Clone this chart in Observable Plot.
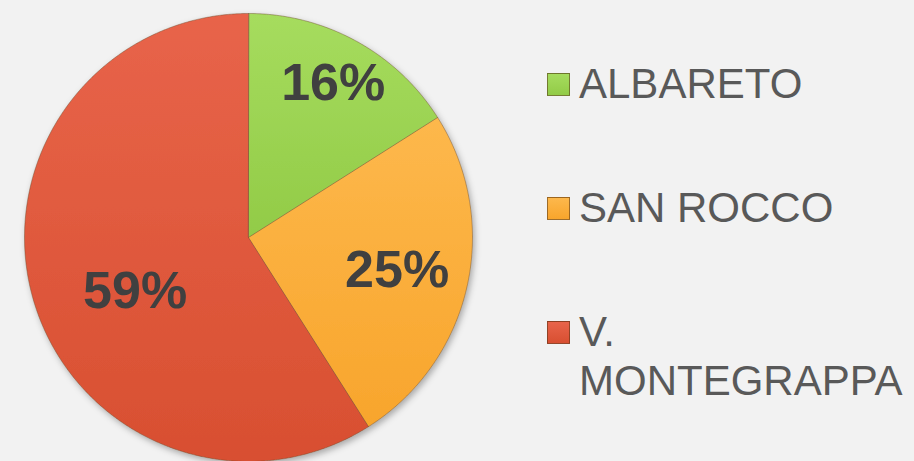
<!DOCTYPE html>
<html>
<head>
<meta charset="utf-8">
<script src="https://cdn.jsdelivr.net/npm/d3@7"></script>
<script src="https://cdn.jsdelivr.net/npm/@observablehq/plot@0.6"></script>
<style>
  html, body { margin: 0; padding: 0; background: #f2f2f2; }
  #wrap { position: relative; width: 914px; height: 461px; overflow: hidden; }
  #legend { position: absolute; left: 547px; top: 59px; width: 367px;
    font-family: "Liberation Sans", Arial, sans-serif; font-size: 42px; line-height: 49px; color: #595959; }
  .item { display: flex; align-items: flex-start; margin-bottom: 75px; }
  .sw { width: 23px; height: 23px; margin-top: 14px; margin-right: 9px; flex: none; box-sizing: border-box;
    border: 1px solid rgba(80,50,20,0.55); }
  .txt { width: 335px; }
</style>
</head>
<body>
<div id="wrap"></div>
<script>
// ---- data ----
const names = ["ALBARETO", "SAN ROCCO", "V. MONTEGRAPPA"];
const shares = [16, 25, 59];
const labels = ["16%", "25%", "59%"];
// ---- style ----
const topColors = ["#a6dc5e", "#fdb84c", "#e8644a"];
const bottomColors = ["#92cb47", "#f8a52c", "#d84f31"];
const labelRadius = [0.785, 0.68, 0.56];
const labelAngleFrac = [0.5, 0.5, 0.457];

const arcs = d3.pie().sort(null).value(d => d)(shares);
const slicePts = [];
arcs.forEach((a, i) => {
  slicePts.push({name: names[i], x: 0, y: 0});
  const n = Math.max(8, Math.ceil((a.endAngle - a.startAngle) / 0.005));
  for (let k = 0; k <= n; k++) {
    const t = a.startAngle + (a.endAngle - a.startAngle) * k / n;
    slicePts.push({name: names[i], x: Math.sin(t), y: Math.cos(t)});
  }
});
const labelData = arcs.map((a, i) => {
  const t = a.startAngle + (a.endAngle - a.startAngle) * labelAngleFrac[i];
  return {label: labels[i], x: labelRadius[i] * Math.sin(t), y: labelRadius[i] * Math.cos(t)};
});

const chart = Plot.plot({
  width: 914,
  height: 461,
  marginLeft: 24,
  marginRight: 442,
  marginTop: 13,
  marginBottom: 0,
  style: {background: "#f2f2f2", overflow: "visible"},
  x: {domain: [-1, 1], axis: null},
  y: {domain: [-1, 1], axis: null},
  color: {domain: names, range: names.map((_, i) => `url(#grad${i})`)},
  marks: [
    Plot.line(slicePts, {x: "x", y: "y", z: "name", fill: "name", curve: "linear-closed",
      stroke: "#6b4a2a", strokeOpacity: 0.45, strokeWidth: 1}),
    Plot.text(labelData, {x: "x", y: "y", text: "label", fontSize: 52, fontWeight: "bold",
      fill: "#404040", fontFamily: "Liberation Sans, Arial, sans-serif"})
  ]
});

// gradients and shadow
const svg = d3.select(chart);
const defs = svg.insert("defs", ":first-child");
names.forEach((_, i) => {
  const g = defs.append("linearGradient").attr("id", `grad${i}`).attr("x1", 0).attr("y1", 0).attr("x2", 0).attr("y2", 1);
  g.append("stop").attr("offset", "0%").attr("stop-color", topColors[i]);
  g.append("stop").attr("offset", "100%").attr("stop-color", bottomColors[i]);
});
const f = defs.append("filter").attr("id", "shadow").attr("x", "-10%").attr("y", "-10%").attr("width", "120%").attr("height", "120%");
f.append("feDropShadow").attr("dx", 2).attr("dy", 3).attr("stdDeviation", 3).attr("flood-color", "#000").attr("flood-opacity", 0.3);
svg.select('g[aria-label="line"]').attr("filter", "url(#shadow)");

const wrap = document.getElementById("wrap");
wrap.appendChild(chart);

// legend
const legend = document.createElement("div");
legend.id = "legend";
names.forEach((n, i) => {
  const item = document.createElement("div");
  item.className = "item";
  const sw = document.createElement("div");
  sw.className = "sw";
  sw.style.background = `linear-gradient(${topColors[i]}, ${bottomColors[i]})`;
  const tx = document.createElement("div");
  tx.className = "txt";
  tx.textContent = n;
  item.appendChild(sw);
  item.appendChild(tx);
  legend.appendChild(item);
});
wrap.appendChild(legend);
</script>
</body>
</html>
